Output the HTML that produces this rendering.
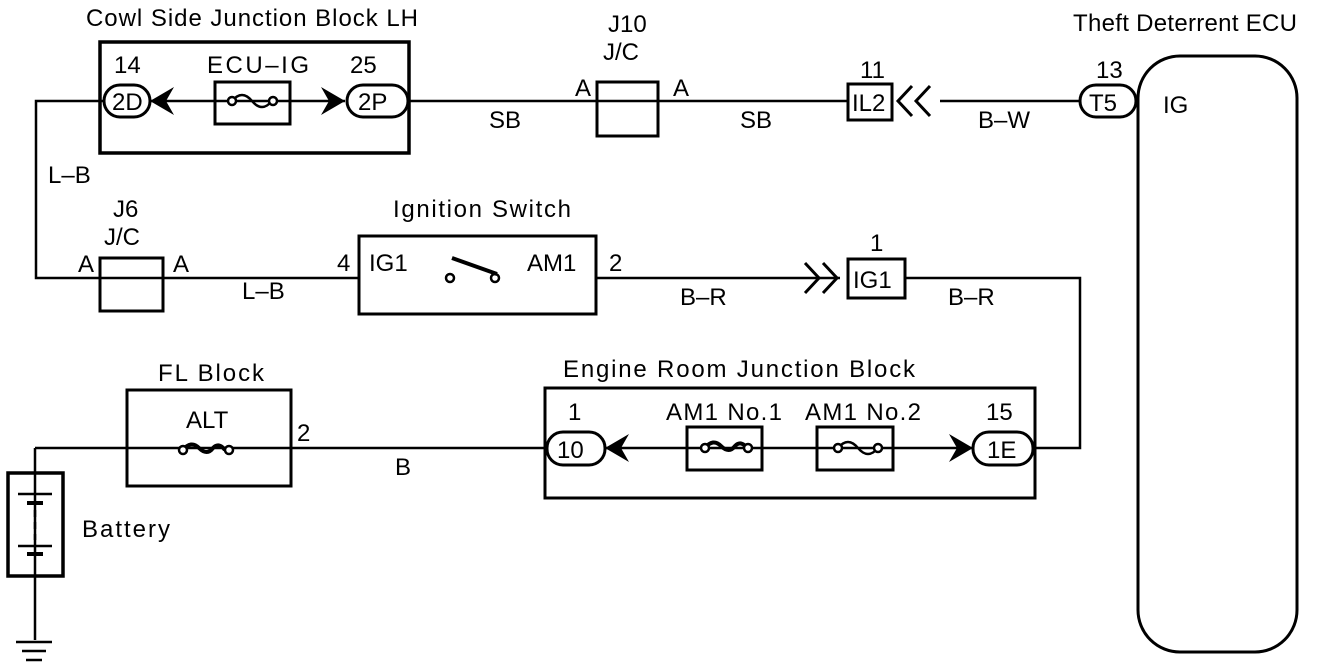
<!DOCTYPE html>
<html><head><style>body{margin:0;background:#fff}svg{display:block}text{font-family:"Liberation Sans",sans-serif;font-size:24px;fill:#000}</style></head><body>
<svg width="1344" height="668" viewBox="0 0 1344 668" xmlns="http://www.w3.org/2000/svg">
<g fill="none" stroke="#000" stroke-width="2.5">
<polyline points="104,101 36,101 36,278 360,278"/>
<line x1="409" y1="101" x2="848" y2="101"/>
<line x1="940" y1="101" x2="1080" y2="101"/>
<line x1="596" y1="278" x2="840" y2="278"/>
<polyline points="905,278 1080,278 1080,448 1035,448"/>
<line x1="35" y1="448" x2="545" y2="448"/>
<line x1="35" y1="448" x2="35" y2="640"/>
<line x1="605" y1="448" x2="973" y2="448"/>
<line x1="150" y1="101" x2="345" y2="101"/>
<rect x="100" y="42" width="309" height="111" stroke-width="3.5"/>
<rect x="215" y="82" width="75" height="42" stroke-width="3"/>
<rect x="597" y="82" width="61" height="54" stroke-width="3"/>
<rect x="848" y="84" width="44" height="36" stroke-width="3"/>
<rect x="1138" y="56" width="159" height="596" rx="42" stroke-width="3"/>
<rect x="100" y="258" width="63" height="53" stroke-width="3"/>
<rect x="359" y="236" width="237" height="78" stroke-width="3"/>
<rect x="848" y="259" width="57" height="39" stroke-width="3"/>
<rect x="545" y="388" width="490" height="110" stroke-width="3"/>
<rect x="687" y="427" width="75" height="43" stroke-width="3"/>
<rect x="817" y="427" width="76" height="43" stroke-width="3"/>
<rect x="127" y="390" width="164" height="96" stroke-width="3"/>
<rect x="8" y="473" width="55" height="103" stroke-width="3.5"/>
<rect x="104" y="85" width="46" height="32" rx="16" fill="#fff" stroke-width="3"/>
<rect x="347" y="85" width="61" height="32" rx="16" fill="#fff" stroke-width="3"/>
<rect x="1080" y="85" width="56" height="32" rx="16" fill="#fff" stroke-width="3"/>
<rect x="547" y="432" width="58" height="33" rx="16" fill="#fff" stroke-width="3"/>
<rect x="973" y="432" width="60" height="33" rx="16" fill="#fff" stroke-width="3"/>
<circle cx="450" cy="278" r="4" fill="#fff"/>
<circle cx="495" cy="278" r="4" fill="#fff"/>
<line x1="452" y1="258" x2="497" y2="274" stroke-width="4"/>
<path d="M232,101 q10,-12 20,0 t20,0"/>
<circle cx="232" cy="101" r="4" fill="#fff"/><circle cx="273" cy="101" r="4" fill="#fff"/>
<path d="M838,448 q10,-12 20,0 t20,0"/>
<circle cx="838" cy="448" r="4" fill="#fff"/><circle cx="878" cy="448" r="4" fill="#fff"/>
<path d="M705,448 q8,-10 16,-2 q8,8 14,0 q6,-6 12,2" stroke-width="4"/>
<circle cx="705" cy="448" r="4" fill="#fff"/><circle cx="748" cy="448" r="4" fill="#fff"/>
<path d="M183,450 q8,-10 16,-2 q8,8 14,0 q6,-6 12,2" stroke-width="4"/>
<circle cx="183" cy="450" r="4" fill="#fff"/><circle cx="229" cy="450" r="4" fill="#fff"/>
<polyline points="912,86 898,101 912,116" stroke-width="3"/>
<polyline points="930,86 916,101 930,116" stroke-width="3"/>
<polyline points="805,263 819,278 805,293" stroke-width="3"/>
<polyline points="823,263 837,278 823,293" stroke-width="3"/>
<line x1="18" y1="494" x2="52" y2="494"/>
<line x1="27" y1="503" x2="43" y2="503" stroke-width="4"/>
<line x1="35" y1="510" x2="35" y2="540" stroke-dasharray="7,5"/>
<line x1="18" y1="546" x2="52" y2="546"/>
<line x1="27" y1="554" x2="43" y2="554" stroke-width="4"/>
<line x1="16" y1="642" x2="52" y2="642"/>
<line x1="22" y1="651" x2="46" y2="651"/>
<line x1="26" y1="660" x2="42" y2="660"/>
</g>
<g fill="#000">
<polygon points="150,101 174,87 166,101 174,115"/>
<polygon points="345,101 321,87 329,101 321,115"/>
<polygon points="605,448 629,434 621,448 629,462"/>
<polygon points="973,448 949,434 957,448 949,462"/>
</g>
<text x="86" y="26" textLength="332">Cowl Side Junction Block LH</text>
<text x="114" y="73">14</text><text x="207" y="73" textLength="102">ECU–IG</text><text x="350" y="73">25</text>
<text x="112" y="110">2D</text><text x="358" y="110">2P</text>
<text x="489" y="128">SB</text><text x="740" y="128">SB</text>
<text x="608" y="32">J10</text><text x="603" y="60">J/C</text>
<text x="575" y="96">A</text><text x="673" y="96">A</text>
<text x="860" y="78">11</text><text x="852" y="111">IL2</text>
<text x="978" y="128">B–W</text>
<text x="1073" y="31" textLength="224">Theft Deterrent ECU</text>
<text x="1096" y="78">13</text><text x="1089" y="111">T5</text>
<text x="1163" y="113">IG</text>
<text x="48" y="183">L–B</text>
<text x="113" y="217">J6</text><text x="104" y="245">J/C</text>
<text x="78" y="272">A</text><text x="173" y="272">A</text>
<text x="242" y="299">L–B</text>
<text x="393" y="217" textLength="178">Ignition Switch</text>
<text x="337" y="271">4</text><text x="369" y="271">IG1</text><text x="527" y="271">AM1</text><text x="609" y="271">2</text>
<text x="680" y="305">B–R</text>
<text x="870" y="251">1</text><text x="853" y="288">IG1</text>
<text x="948" y="305">B–R</text>
<text x="563" y="377" textLength="352">Engine Room Junction Block</text>
<text x="568" y="420">1</text><text x="666" y="420" textLength="116">AM1 No.1</text><text x="805" y="420" textLength="116">AM1 No.2</text><text x="986" y="420">15</text>
<text x="557" y="458">10</text><text x="987" y="458">1E</text>
<text x="158" y="381" textLength="106">FL Block</text><text x="186" y="428">ALT</text>
<text x="297" y="441">2</text>
<text x="395" y="475">B</text>
<text x="82" y="537" textLength="88">Battery</text>
</svg>
</body></html>
